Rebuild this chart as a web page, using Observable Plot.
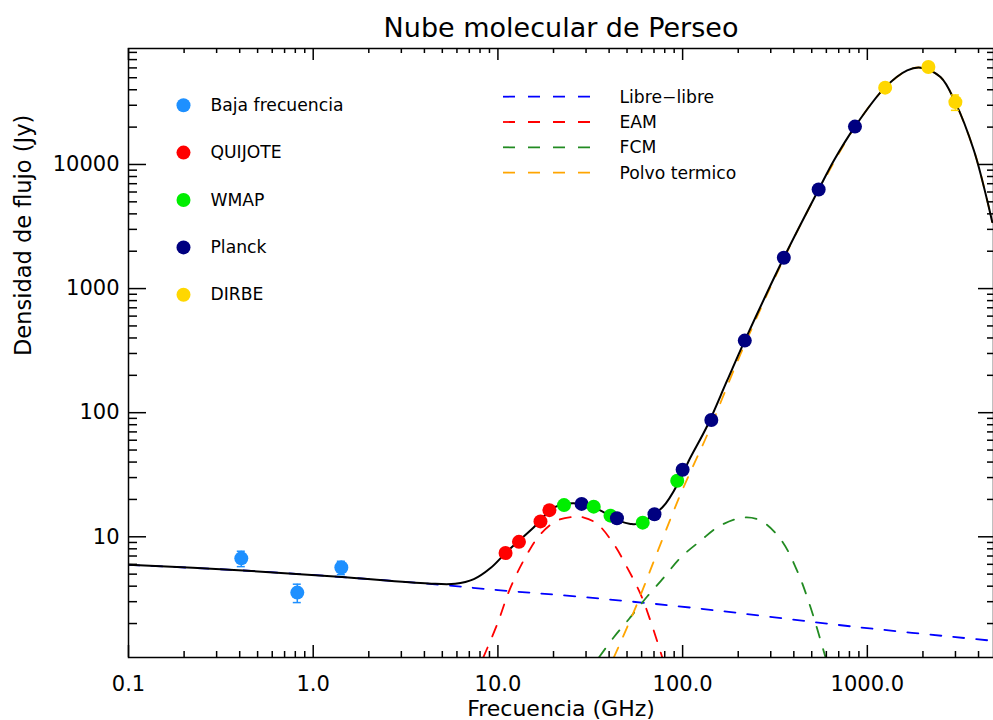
<!DOCTYPE html>
<html><head><meta charset="utf-8">
<script src="https://cdn.jsdelivr.net/npm/d3@7"></script>
<script src="https://cdn.jsdelivr.net/npm/@observablehq/plot@0.6"></script>
<style>html,body{margin:0;padding:0;background:#fff;} svg{display:block}</style>
</head><body><div id="chart"></div>
<script>
// ---------- text ----------
const title = "Nube molecular de Perseo";
const xLabel = "Frecuencia (GHz)";
const yLabel = "Densidad de flujo (Jy)";

// ---------- measured points ----------
const seriesNames  = ["Baja frecuencia", "QUIJOTE", "WMAP", "Planck", "DIRBE"];
const seriesColors = ["#1e90ff", "#ff0000", "#00ee00", "#000080", "#ffd700"];

const bajaFreq = [0.408, 0.82, 1.42];
const bajaFlux = [6.7, 3.55, 5.65];
const bajaErr  = [0.95, 0.6, 0.7];

const quijoteFreq = [11, 13, 17, 19];
const quijoteFlux = [7.4, 9.1, 13.3, 16.4];

const wmapFreq = [22.8, 33, 40.7, 60.8, 93.5];
const wmapFlux = [18.0, 17.5, 14.8, 13.0, 28.3];

const planckFreq = [28.4, 44.1, 70.4, 100, 143, 217, 353, 545, 857];
const planckFlux = [18.4, 14.1, 15.2, 34.7, 87.3, 381, 1770, 6280, 20200];

const dirbeFreq = [1249, 2141, 2997];
const dirbeFlux = [41600, 61000, 31800];
const dirbeErr  = [3000, 4000, 4500];

// ---------- model curves ----------
const totalFreq = [0.1, 0.394, 1.37, 4.21, 5.87, 7.41, 9.12, 11.2, 15.6, 20.1, 25.8, 34.5, 46.1, 52.2, 56.8, 77.6, 97.5, 108, 136, 174, 217, 353, 545, 659, 857, 1244, 1644, 1941, 2489, 2990, 3776, 4457, 4744];
const totalFlux = [5.94, 5.38, 4.76, 4.20, 4.18, 4.56, 5.60, 7.6, 11.9, 17.2, 18.6, 16.7, 13.3, 12.7, 12.7, 17.2, 29.5, 41, 78.5, 181, 381, 1770, 6280, 10770, 20200, 41600, 57300, 60300, 50600, 31800, 12970, 5130, 3430];

const ffFreq = [0.1, 0.394, 1.37, 4.89, 10, 28, 110, 919, 4820];
const ffFlux = [5.94, 5.38, 4.76, 4.10, 3.72, 3.28, 2.69, 1.86, 1.45];

const eamFreq = [8.33, 9.92, 11.7, 14.4, 17.0, 20.9, 25.8, 29.2, 34.5, 42.4, 50.1, 59.2, 67.0, 77.6];
const eamFlux = [1.065, 1.98, 3.90, 7.25, 10.5, 13.5, 14.5, 14.3, 12.7, 8.73, 5.65, 3.45, 2.10, 1.065];

const fcmFreq = [35.2, 42.4, 52.2, 64.3, 79.1, 97.5, 125, 160, 214, 264, 339, 417, 493, 594];
const fcmFlux = [1.065, 1.55, 2.25, 3.3, 4.7, 6.8, 9.3, 12.3, 14.3, 13.5, 9.58, 5.32, 2.69, 1.065];

const dustFreq = [42.4, 55.6, 75.9, 97.5, 122, 139, 206, 353, 545, 857, 1244, 1644, 1941, 2489, 2990, 3776, 4457, 4744];
const dustFlux = [1.065, 2.69, 8.73, 22.1, 46.4, 71.6, 297, 1740, 6200, 20100, 41500, 57300, 60300, 50600, 31800, 12970, 5130, 3430];

const lineNames  = ["Libre\u2212libre", "EAM", "FCM", "Polvo termico"];
const lineColors = ["#0000ff", "#ff0000", "#228b22", "#ffa500"];

// ---------- axes ----------
const xDomain = [0.1, 4820];
const yDomain = [1.065, 86000];
const xTickValues = [0.1, 1, 10, 100, 1000];
const xTickLabels = ["0.1", "1.0", "10.0", "100.0", "1000.0"];
const yTickValues = [10, 100, 1000, 10000];
const yTickLabels = ["10", "100", "1000", "10000"];

// ---------- build tables ----------
const zip = (fs, ss) => fs.map((f, i) => ({f, s: ss[i]}));
const points = [
  ...bajaFreq.map((f, i) => ({f, s: bajaFlux[i], series: seriesNames[0]})),
  ...quijoteFreq.map((f, i) => ({f, s: quijoteFlux[i], series: seriesNames[1]})),
  ...wmapFreq.map((f, i) => ({f, s: wmapFlux[i], series: seriesNames[2]})),
  ...planckFreq.map((f, i) => ({f, s: planckFlux[i], series: seriesNames[3]})),
  ...dirbeFreq.map((f, i) => ({f, s: dirbeFlux[i], series: seriesNames[4]}))
].sort((a, b) => a.f - b.f);
const errs = [
  ...bajaFreq.map((f, i) => ({f, lo: bajaFlux[i] - bajaErr[i], hi: bajaFlux[i] + bajaErr[i], series: seriesNames[0]})),
  ...dirbeFreq.map((f, i) => ({f, lo: dirbeFlux[i] - dirbeErr[i], hi: dirbeFlux[i] + dirbeErr[i], series: seriesNames[4]}))
];
const curves = [zip(ffFreq, ffFlux), zip(eamFreq, eamFlux), zip(fcmFreq, fcmFlux), zip(dustFreq, dustFlux)];

const minorX = [], minorY = [];
for (let d = 0.1; d <= 1000; d *= 10) for (let m = 2; m <= 9; m++) { const v = +(d * m).toPrecision(3); if (v <= xDomain[1]) minorX.push(v); }
for (let d = 1; d <= 10000; d *= 10) for (let m = 2; m <= 9; m++) { const v = d * m; if (v >= yDomain[0] && v <= yDomain[1]) minorY.push(v); }

// ---------- layout ----------
const W = 993, H = 720, mL = 128, mR = 0, mT = 48, mB = 63;
const pw = W - mL - mR, ph = H - mT - mB;
const dash = "11,12";

const legendDots = seriesNames.map((name, i) => [
  Plot.dot([name], {frameAnchor: "top-left", dx: 55, dy: 56.7 + i * 47.4, r: 7, fill: seriesColors[i]}),
  Plot.text([name], {frameAnchor: "top-left", dx: 82, dy: 56.7 + i * 47.4, textAnchor: "start", lineAnchor: "middle", fontSize: 17.2})
]).flat();
const legendLineTexts = lineNames.map((name, i) =>
  Plot.text([name], {frameAnchor: "top-left", dx: 619 - mL, dy: 48.7 + i * 25.3, textAnchor: "start", lineAnchor: "middle", fontSize: 17.2})
);

const plot = Plot.plot({
  width: W, height: H,
  marginLeft: mL, marginRight: mR, marginTop: mT, marginBottom: mB,
  style: {fontFamily: "'DejaVu Sans', sans-serif", fontSize: "21px", background: "#fff", color: "#000", overflow: "visible"},
  x: {type: "log", domain: xDomain, axis: null},
  y: {type: "log", domain: yDomain, axis: null},
  color: {domain: seriesNames, range: seriesColors},
  marks: [
    ...curves.map((c, i) => Plot.line(c, {x: "f", y: "s", stroke: lineColors[i], strokeWidth: 1.8, strokeDasharray: dash, curve: "catmull-rom", clip: true})),
    Plot.line(zip(totalFreq, totalFlux), {x: "f", y: "s", stroke: "#000", strokeWidth: 2, curve: "catmull-rom", clip: true}),
    Plot.ruleX(errs, {x: "f", y1: "lo", y2: "hi", stroke: "series", strokeWidth: 1.5}),
    Plot.ruleY(errs, {y: "hi", x1: "f", x2: "f", insetLeft: -4, insetRight: -4, stroke: "series", strokeWidth: 1.5}),
    Plot.ruleY(errs, {y: "lo", x1: "f", x2: "f", insetLeft: -4, insetRight: -4, stroke: "series", strokeWidth: 1.5}),
    Plot.dot(points, {x: "f", y: "s", fill: "series", r: 7}),
    // ticks: bottom / top
    Plot.ruleX(xTickValues, {x: d => d, insetTop: ph - 12, stroke: "#000", strokeWidth: 1.5}),
    Plot.ruleX(minorX, {x: d => d, insetTop: ph - 6, stroke: "#000", strokeWidth: 1.5}),
    Plot.ruleX(xTickValues, {x: d => d, insetBottom: ph - 12, stroke: "#000", strokeWidth: 1.5}),
    Plot.ruleX(minorX, {x: d => d, insetBottom: ph - 5, stroke: "#000", strokeWidth: 1.5}),
    // ticks: left / right
    Plot.ruleY(yTickValues, {y: d => d, insetRight: pw - 18, stroke: "#000", strokeWidth: 1.5}),
    Plot.ruleY(minorY, {y: d => d, insetRight: pw - 9, stroke: "#000", strokeWidth: 1.5}),
    Plot.ruleY(yTickValues, {y: d => d, insetLeft: pw - 15, stroke: "#000", strokeWidth: 1.5}),
    Plot.ruleY(minorY, {y: d => d, insetLeft: pw - 6, stroke: "#000", strokeWidth: 1.5}),
    Plot.frame({stroke: "#000", strokeWidth: 1.5}),
    // tick labels
    Plot.text(xTickValues, {x: d => d, text: (d, i) => xTickLabels[i], frameAnchor: "bottom", lineAnchor: "top", dy: 19, fontSize: 21}),
    Plot.text(yTickValues, {y: d => d, text: (d, i) => yTickLabels[i], frameAnchor: "left", textAnchor: "end", lineAnchor: "middle", dx: -9, fontSize: 21}),
    // titles
    Plot.text([title], {frameAnchor: "top", lineAnchor: "middle", dy: -20.6, fontSize: 27, letterSpacing: "0.5px"}),
    Plot.text([xLabel], {frameAnchor: "bottom", lineAnchor: "middle", dy: 51.3, fontSize: 22}),
    Plot.text([yLabel], {frameAnchor: "left", lineAnchor: "middle", dx: -105.2, dy: 3, rotate: -90, fontSize: 22.5}),
    // legends
    ...legendDots,
    ...legendLineTexts
  ]
});

// dashed legend samples
const g = d3.select(plot).append("g");
lineNames.forEach((name, i) => {
  const y = 96.7 + i * 25.3;
  g.append("line").attr("x1", 503).attr("x2", 591).attr("y1", y).attr("y2", y)
    .attr("stroke", lineColors[i]).attr("stroke-width", 1.8).attr("stroke-dasharray", "12,13");
});

document.getElementById("chart").appendChild(plot);
</script>
</body></html>
